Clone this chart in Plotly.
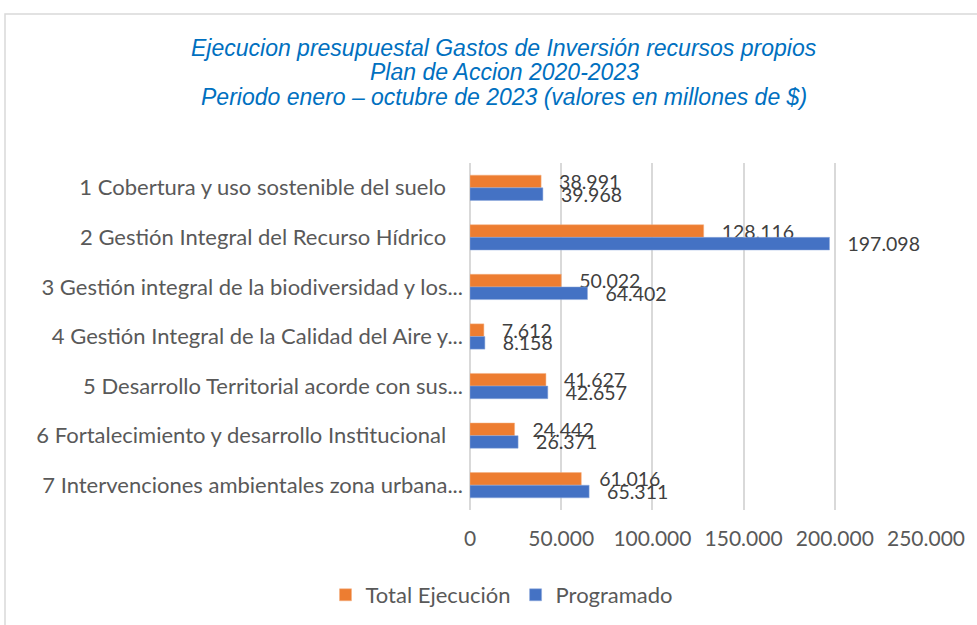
import plotly.graph_objects as go

categories = [
    "1 Cobertura y uso sostenible del suelo",
    "2 Gestión Integral del Recurso Hídrico",
    "3 Gestión integral de la biodiversidad y los...",
    "4 Gestión Integral de la Calidad del Aire y...",
    "5 Desarrollo Territorial acorde con sus...",
    "6 Fortalecimiento y desarrollo Institucional",
    "7 Intervenciones ambientales zona urbana...",
]
total_ejecucion = [38991, 128116, 50022, 7612, 41627, 24442, 61016]
programado = [39968, 197098, 64402, 8158, 42657, 26371, 65311]
x_ticks = [0, 50000, 100000, 150000, 200000, 250000]
title_lines = [
    "Ejecucion presupuestal Gastos de Inversión recursos propios",
    "Plan de Accion 2020-2023",
    "Periodo enero – octubre de 2023 (valores en millones de $)",
]

W, H = 977, 625
L, R, T, B = 470, 51, 163, 115
pw, ph = W - L - R, H - T - B

def px_x(x):
    return (x - L) / pw

def px_y(y):
    return (H - B - y) / ph

FONT = "Lato, Carlito, Calibri, sans-serif"

# Excel leaves a small gap after the untruncated labels
tick_text = [c if c.endswith("...") else c + "\u00a0\u00a0\u00a0" for c in categories]

fig = go.Figure()
fig.add_trace(go.Bar(
    name="Total Ejecución", y=categories, x=total_ejecucion, orientation="h",
    marker=dict(color="#ED7D31", line=dict(color="#F4B183", width=0.5)),
    texttemplate="\u00a0\u00a0\u00a0%{x:,d}", textposition="outside",
    textfont=dict(family=FONT, size=19.5, color="#404040"),
    constraintext="none", cliponaxis=False,
))
fig.add_trace(go.Bar(
    name="Programado", y=categories, x=programado, orientation="h",
    marker=dict(color="#4472C4", line=dict(color="#8FAADC", width=0.5)),
    texttemplate="\u00a0\u00a0\u00a0%{x:,d}", textposition="outside",
    textfont=dict(family=FONT, size=19.5, color="#404040"),
    constraintext="none", cliponaxis=False,
))

annotations = []
for yy, line in zip([48, 72, 97], title_lines):
    annotations.append(dict(
        text="<i>" + line + "</i>", xref="paper", yref="paper",
        x=px_x(504), y=px_y(yy), xanchor="center", yanchor="middle",
        showarrow=False,
        font=dict(family="Liberation Sans, Arial, sans-serif", size=23, color="#0070C0"),
    ))

shapes = [dict(
    type="rect", xref="paper", yref="paper",
    x0=px_x(5), x1=px_x(990), y0=px_y(640), y1=px_y(14),
    line=dict(color="#D9D9D9", width=1.5), fillcolor="rgba(0,0,0,0)", layer="below",
)]

fig.update_layout(
    width=W, height=H,
    margin=dict(l=L, r=R, t=T, b=B, autoexpand=False),
    paper_bgcolor="white", plot_bgcolor="white",
    separators=",.",
    barmode="group", bargap=0.49, bargroupgap=0,
    showlegend=True,
    legend=dict(
        orientation="h", xref="container", yref="container",
        x=502 / W, xanchor="center", y=1 - 595 / H, yanchor="middle",
        font=dict(family=FONT, size=22, color="#595959"),
        traceorder="normal", itemwidth=30,
    ),
    annotations=annotations,
    shapes=shapes,
    xaxis=dict(
        range=[0, 250000], tickvals=x_ticks, tickformat=",d",
        showgrid=True, gridcolor="#D9D9D9", gridwidth=1.5,
        zeroline=True, zerolinecolor="#D9D9D9", zerolinewidth=1.5,
        showline=False, ticks="", ticklabelstandoff=14,
        tickfont=dict(family=FONT, size=21, color="#595959"),
    ),
    yaxis=dict(
        autorange="reversed", showgrid=False, zeroline=False, showline=False,
        ticks="", ticklabelstandoff=6,
        tickmode="array", tickvals=categories, ticktext=tick_text,
        tickfont=dict(family=FONT, size=22, color="#595959"),
    ),
)

fig.write_html("out.html", post_script="document.body.style.margin='0';",
               config={"displayModeBar": False})
